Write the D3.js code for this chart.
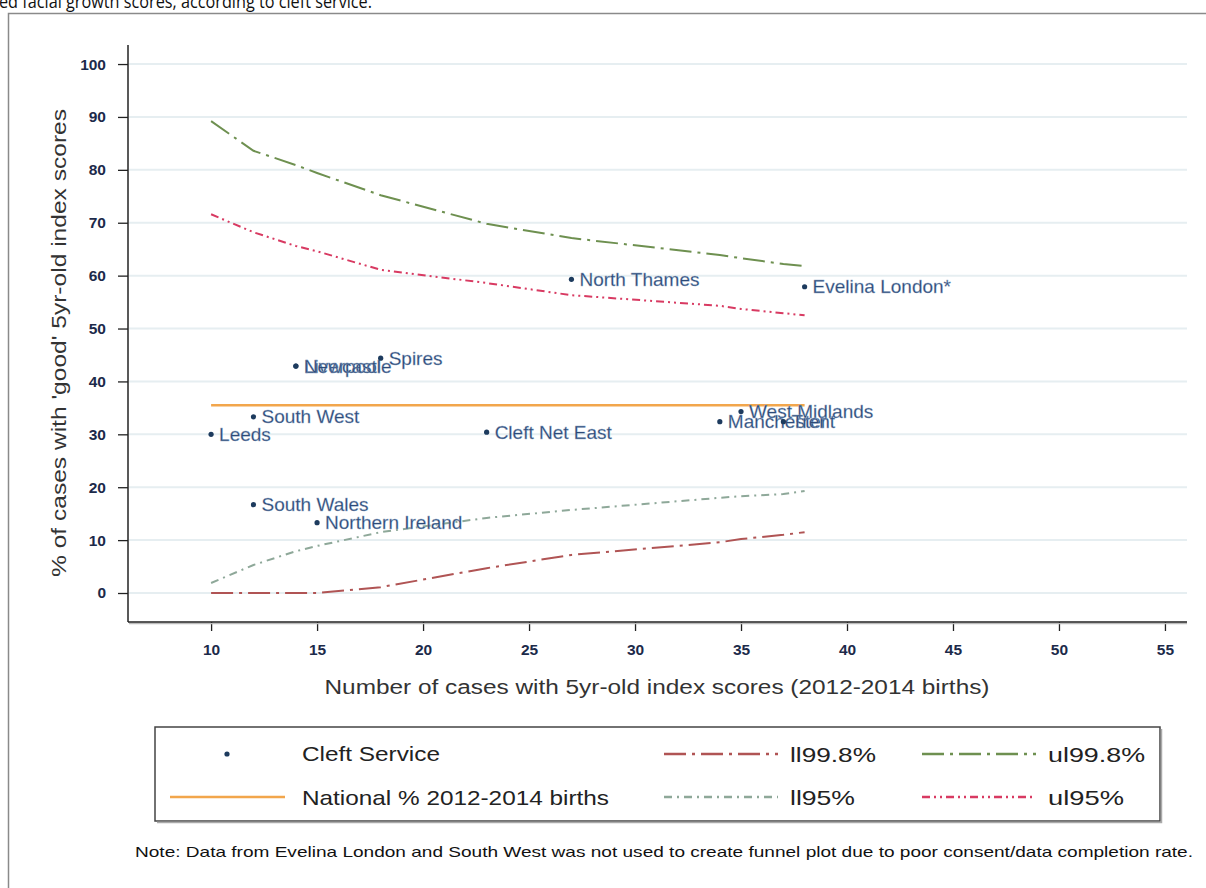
<!DOCTYPE html>
<html><head><meta charset="utf-8">
<script src="https://cdn.jsdelivr.net/npm/d3@7"></script>
<style>html,body{margin:0;padding:0;background:#fff;}svg{display:block;}</style>
</head><body>
<svg id="chart" width="1206" height="888"></svg>
<script>
// ---- data ----
const services = ["Leeds","South West","Liverpool","Newcastle","Spires","South Wales","Northern Ireland","Cleft Net East","North Thames","Manchester","West Midlands","Trent","Evelina London*"];
const cases    = [10, 12, 14, 14, 18, 12, 15, 23, 27, 34, 35, 37, 38];
const pctGood  = [30.0, 33.3, 42.9, 42.9, 44.4, 16.7, 13.3, 30.4, 59.3, 32.4, 34.3, 32.4, 57.9];
const nationalPct = 35.5;
const nationalRange = [10, 38];
const funnelN = [10, 12, 14, 15, 18, 23, 27, 34, 35, 37, 38];
const ll998 = [0, 0, 0, 0, 1.1, 4.7, 7.2, 9.6, 10.2, 11.0, 11.5];
const ul998 = [89.2, 83.6, 80.9, 79.4, 75.2, 69.8, 67.1, 63.9, 63.3, 62.2, 61.8];
const ll95  = [1.9, 5.3, 7.9, 8.9, 11.5, 14.2, 15.7, 18.0, 18.3, 18.7, 19.3];
const ul95  = [71.6, 68.2, 65.6, 64.6, 61.1, 58.6, 56.3, 54.3, 53.7, 52.9, 52.5];
const xTicks = [10, 15, 20, 25, 30, 35, 40, 45, 50, 55];
const yTicks = [0, 10, 20, 30, 40, 50, 60, 70, 80, 90, 100];

const svg = d3.select("#chart");
const F = "Liberation Sans, Arial, sans-serif";

// caption fragment (cut at top)
svg.append("text").attr("x", -1).attr("y", 8).attr("font-family", "Open Sans, Liberation Sans, sans-serif")
  .attr("font-size", 19).attr("fill", "#111")
  .attr("textLength", 373).attr("lengthAdjust", "spacingAndGlyphs")
  .text("ed facial growth scores, according to cleft service.");

// outer frame
svg.append("path").attr("d", "M8.5,888 V13.5 H1206").attr("fill", "none").attr("stroke", "#8a8a8a").attr("stroke-width", 1.5);

const x = d3.scaleLinear().domain([6.08, 56.04]).range([128, 1187]);
const y = d3.scaleLinear().domain([-5.48, 103.6]).range([622, 45]);

// gridlines
svg.append("g").selectAll("line").data(yTicks).join("line")
  .attr("x1", 129).attr("x2", 1187).attr("y1", d => y(d)).attr("y2", d => y(d))
  .attr("stroke", "#e6eef1").attr("stroke-width", 2);

// axes
const yAx = svg.append("g").attr("transform", "translate(128,0)")
  .call(d3.axisLeft(y).tickValues(yTicks).tickSize(10).tickPadding(12));
const xAx = svg.append("g").attr("transform", "translate(0,622)")
  .call(d3.axisBottom(x).tickValues(xTicks).tickSize(9).tickPadding(13));
[yAx, xAx].forEach(g => {
  g.select(".domain").remove();
  g.selectAll(".tick line").attr("stroke", "#222").attr("stroke-width", 1.3);
  g.selectAll(".tick text").attr("font-family", F).attr("font-size", 15.5).attr("font-weight", "bold").attr("fill", "#1c2a4a");
});
// axis lines with slight shadow
svg.append("line").attr("x1", 129).attr("x2", 1187).attr("y1", 623.5).attr("y2", 623.5).attr("stroke", "#bbb").attr("stroke-width", 1.5);
svg.append("line").attr("x1", 128).attr("x2", 128).attr("y1", 45).attr("y2", 622).attr("stroke", "#222").attr("stroke-width", 1.5);
svg.append("line").attr("x1", 128).attr("x2", 1187).attr("y1", 622).attr("y2", 622).attr("stroke", "#222").attr("stroke-width", 1.5);

// axis titles
svg.append("text").attr("transform", "translate(66,343) rotate(-90)").attr("text-anchor", "middle")
  .attr("font-family", F).attr("font-size", 20).attr("fill", "#333")
  .attr("textLength", 468).attr("lengthAdjust", "spacingAndGlyphs")
  .text("% of cases with 'good' 5yr-old index scores");
svg.append("text").attr("x", 657).attr("y", 694).attr("text-anchor", "middle")
  .attr("font-family", F).attr("font-size", 20).attr("fill", "#333")
  .attr("textLength", 665).attr("lengthAdjust", "spacingAndGlyphs")
  .text("Number of cases with 5yr-old index scores (2012-2014 births)");

// funnel lines
const line = d3.line().x(d => x(d[0])).y(d => y(d[1]));
const series = [
  {vals: ul998, color: "#6e9050", dash: "22,6,3,6", w: 2},
  {vals: ul95,  color: "#d83a62", dash: "8,4,2,4,2,4", w: 2},
  {vals: ll95,  color: "#8ea899", dash: "8,5,2,5", w: 2},
  {vals: ll998, color: "#b05454", dash: "22,6,3,6", w: 2}
];
series.forEach(s => {
  svg.append("path").datum(funnelN.map((n, i) => [n, s.vals[i]]))
    .attr("d", line).attr("fill", "none").attr("stroke", s.color)
    .attr("stroke-width", s.w).attr("stroke-dasharray", s.dash);
});

// national line
svg.append("line").attr("x1", x(nationalRange[0])).attr("x2", x(nationalRange[1]))
  .attr("y1", y(nationalPct)).attr("y2", y(nationalPct))
  .attr("stroke", "#f2a64c").attr("stroke-width", 2.5);

// points + labels
const pts = svg.append("g");
services.forEach((s, i) => {
  const cx = x(cases[i]), cy = y(pctGood[i]);
  pts.append("circle").attr("cx", cx).attr("cy", cy).attr("r", 2.6).attr("fill", "#1d3b5e");
  pts.append("text").attr("x", cx + 8).attr("y", cy + 6.5)
    .attr("font-family", F).attr("font-size", 19).attr("fill", "#2c4a78")
    .attr("stroke", "#9ab0cc").attr("stroke-width", 0.3)
    .text(s);
});

// legend
svg.append("rect").attr("x", 155).attr("y", 727).attr("width", 1005).attr("height", 94)
  .attr("fill", "#fff").attr("stroke", "#444").attr("stroke-width", 1.5);
svg.append("path").attr("d", "M157,822.5 H1161.5 V729").attr("fill", "none").attr("stroke", "#aaa").attr("stroke-width", 1.5);
const lg = svg.append("g").attr("font-family", F).attr("font-size", 21).attr("fill", "#222");
lg.append("circle").attr("cx", 227).attr("cy", 754).attr("r", 2.6).attr("fill", "#1d3b5e");
lg.append("text").attr("x", 302).attr("y", 761).attr("textLength", 138).attr("lengthAdjust", "spacingAndGlyphs").text("Cleft Service");
lg.append("line").attr("x1", 170).attr("x2", 285).attr("y1", 797).attr("y2", 797).attr("stroke", "#f2a64c").attr("stroke-width", 2.5);
lg.append("text").attr("x", 302).attr("y", 805).attr("textLength", 307).attr("lengthAdjust", "spacingAndGlyphs").text("National % 2012-2014 births");
const legItems = [
  {s: series[3], lx: 664, ly: 754, label: "ll99.8%", tl: 86},
  {s: series[0], lx: 922, ly: 754, label: "ul99.8%", tl: 97},
  {s: series[2], lx: 664, ly: 797, label: "ll95%", tl: 65},
  {s: series[1], lx: 922, ly: 797, label: "ul95%", tl: 76}
];
legItems.forEach(it => {
  lg.append("line").attr("x1", it.lx).attr("x2", it.lx + 114).attr("y1", it.ly).attr("y2", it.ly)
    .attr("stroke", it.s.color).attr("stroke-width", 2.5).attr("stroke-dasharray", it.s.dash);
  lg.append("text").attr("x", it.lx + 126).attr("y", it.ly + 8)
    .attr("textLength", it.tl).attr("lengthAdjust", "spacingAndGlyphs").text(it.label);
});

// note
svg.append("text").attr("x", 135).attr("y", 857).attr("font-family", F).attr("font-size", 15).attr("fill", "#111")
  .attr("textLength", 1058).attr("lengthAdjust", "spacingAndGlyphs")
  .text("Note: Data from Evelina London and South West was not used to create funnel plot due to poor consent/data completion rate.");
</script>
</body></html>
